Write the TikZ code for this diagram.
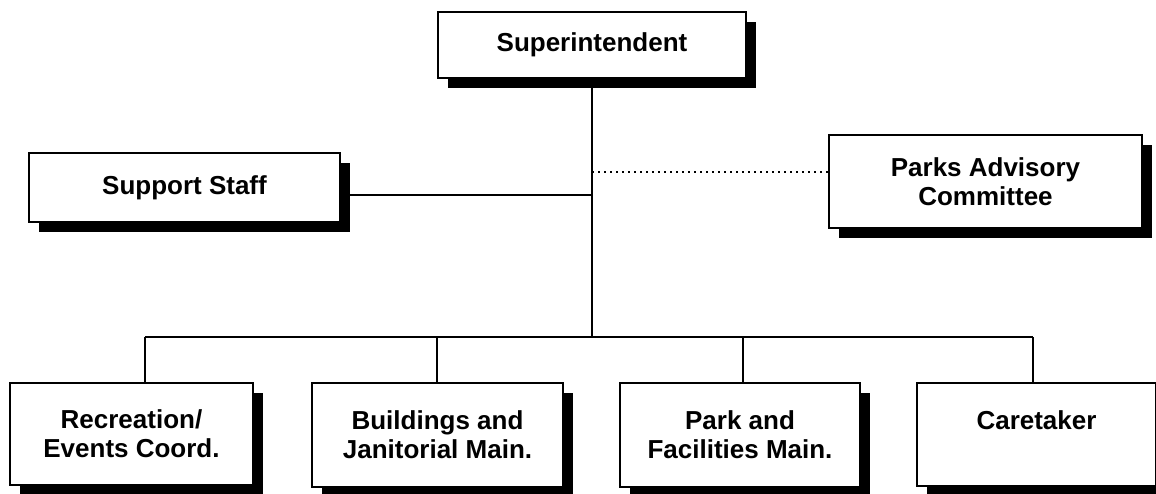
\documentclass[tikz,border=0pt]{standalone}
\usepackage{fontspec}
\setmainfont{Liberation Sans}
\usetikzlibrary{shadows}
\begin{document}
\begin{tikzpicture}[x=1pt,y=-1pt,every node/.style={font=\bfseries\fontsize{26}{29}\selectfont},
  unit/.style={draw,line width=2.2pt,fill=white,align=center,inner sep=0pt,
    drop shadow={shadow xshift=10pt,shadow yshift=-10pt,fill=black,opacity=1}},
  link/.style={line width=2pt},
  advice/.style={line width=1.6pt,dash pattern=on 1.6pt off 4.4pt}]
\useasboundingbox (0,0) rectangle (1156,493);
\node[unit,minimum width=308pt,minimum height=66pt] (sup) at (592,45) {Superintendent};
\node[unit,minimum width=311pt,minimum height=69pt] (staff) at (184.5,187.5) {Support Staff};
\node[unit,minimum width=313pt,minimum height=93pt] (advisory) at (985.5,181.5) {Parks Advisory\\Committee};
\node[unit,minimum width=243pt,minimum height=102pt] (rec) at (131.5,434) {Recreation/\\Events Coord.};
\node[unit,minimum width=251pt,minimum height=104pt] (bldg) at (437.5,435) {Buildings and\\Janitorial Main.};
\node[unit,minimum width=240pt,minimum height=104pt] (park) at (740,435) {Park and\\Facilities Main.};
\node[unit,minimum width=239pt,minimum height=103pt] (care) at (1036.5,434.5) {Caretaker\\\mbox{}};
\coordinate (hub) at (592,337);
\coordinate (staffjoin) at (592,195);
\coordinate (advjoin) at (592,172);
\draw[link] (sup.south) -- (hub);
\draw[link] (staffjoin -| staff.east) -- (staffjoin);
\draw[advice] (advjoin) -- (advjoin -| advisory.west);
\foreach \n/\x in {rec/145,bldg/437,park/743,care/1033}{
  \coordinate (drop-\n) at (\x,337);
  \draw[link] (drop-\n) -- (drop-\n |- \n.north);
}
\draw[link] (drop-rec) -- (drop-care);
\end{tikzpicture}
\end{document}
